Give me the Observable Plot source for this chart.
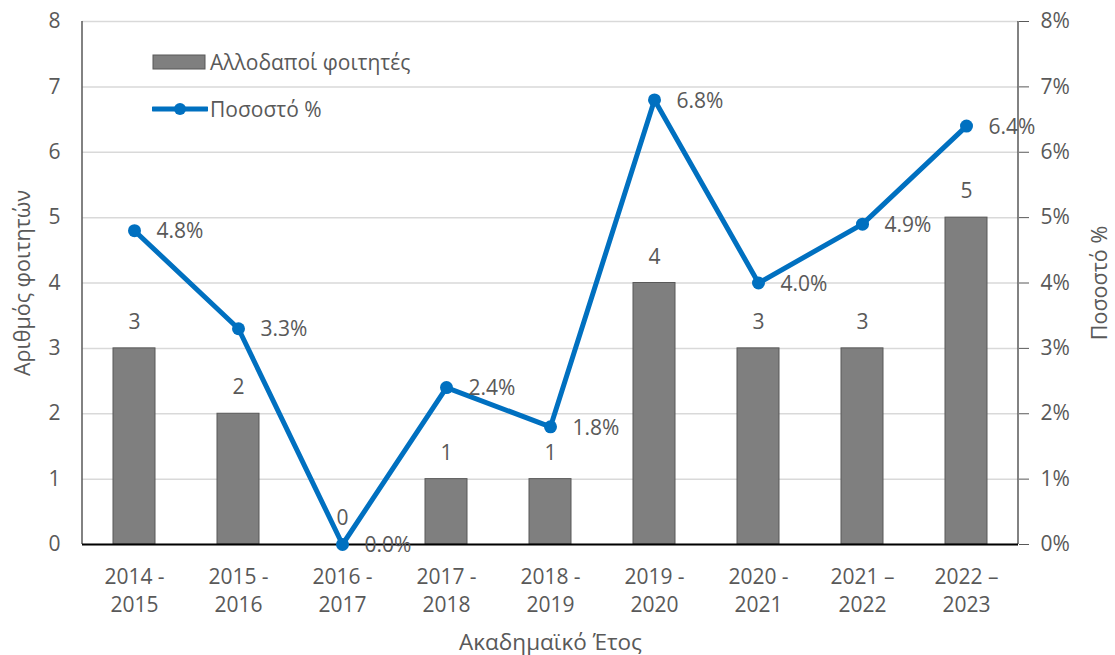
<!DOCTYPE html>
<html><head><meta charset="utf-8">
<script src="https://cdn.jsdelivr.net/npm/d3@7"></script>
<script src="https://cdn.jsdelivr.net/npm/@observablehq/plot@0.6"></script>
<style>
body{margin:0;background:#fff;font-family:"Open Sans",sans-serif;}
#wrap{position:relative;width:1115px;height:655px;}
.legend{position:absolute;left:152px;top:49px;color:#595959;font-size:21px;font-family:"Open Sans",sans-serif;}
.legend .row{display:flex;align-items:center;height:26px;margin-bottom:21px;white-space:nowrap}
.legend svg{margin-right:2px}
</style></head><body><div id="wrap"></div>
<script>
const categories = ["2014-2015","2015-2016","2016-2017","2017-2018","2018-2019","2019-2020","2020-2021","2021-2022","2022-2023"];
const tickLabels = ["2014 -\n2015","2015 -\n2016","2016 -\n2017","2017 -\n2018","2018 -\n2019","2019 -\n2020","2020 -\n2021","2021 –\n2022","2022 –\n2023"];
const students = [3, 2, 0, 1, 1, 4, 3, 3, 5];
const percent = [4.8, 3.3, 0.0, 2.4, 1.8, 6.8, 4.0, 4.9, 6.4];
const yTicks = [0, 1, 2, 3, 4, 5, 6, 7, 8];
const seriesNames = ["Αλλοδαποί φοιτητές", "Ποσοστό %"];
const yTitle = "Αριθμός φοιτητών";
const y2Title = "Ποσοστό %";
const xTitle = "Ακαδημαϊκό Έτος";

const data = categories.map((c, i) => ({year: c, students: students[i], percent: percent[i]}));

const barFill = "#7f7f7f", barStroke = "#595959", lineColor = "#0070C0", textColor = "#595959";

const axisLines = (index, scales, values, dims) => {
  const g = d3.create("svg:g").attr("stroke", "#595959").attr("stroke-width", 1.5);
  const x0 = dims.marginLeft, x1 = dims.width - dims.marginRight;
  const y0 = dims.marginTop, y1 = dims.height - dims.marginBottom;
  g.append("line").attr("x1", x0).attr("x2", x0).attr("y1", y0).attr("y2", y1);
  g.append("line").attr("x1", x1).attr("x2", x1).attr("y1", y0).attr("y2", y1);
  return g.node();
};

const chart = Plot.plot({
  width: 1115,
  height: 655,
  marginLeft: 82,
  marginRight: 97,
  marginTop: 21,
  marginBottom: 111,
  style: {fontFamily: "Open Sans, sans-serif", fontSize: "21px", color: textColor, background: "#fff"},
  x: {type: "band", domain: categories, paddingInner: 0.6, paddingOuter: 0.3, label: null},
  y: {domain: [0, 8], label: null},
  marks: [
    Plot.gridY(yTicks, {stroke: "#d9d9d9", strokeOpacity: 1, strokeWidth: 1.5}),
    Plot.barY(data, {x: "year", y: "students", fill: barFill, stroke: barStroke, strokeWidth: 1}),
    axisLines,
    Plot.ruleY([0], {stroke: "#000", strokeWidth: 2}),
    Plot.axisY({anchor: "left", ticks: yTicks, tickSize: 0, tickPadding: 22, label: null, fontSize: 21}),
    Plot.axisY({anchor: "right", ticks: yTicks, tickSize: 10, tickPadding: 12, tickFormat: d => d + "%", label: null, fontSize: 21}),
    Plot.axisX({tickSize: 0, tickPadding: 20, tickFormat: d => tickLabels[categories.indexOf(d)], label: null, fontSize: 21, lineHeight: 1.33}),
    Plot.line(data, {x: "year", y: "percent", stroke: lineColor, strokeWidth: 5, strokeLinejoin: "round"}),
    Plot.dot(data, {x: "year", y: "percent", r: 6.5, fill: lineColor}),
    Plot.text(data, {x: "year", y: "students", text: d => String(d.students), dy: -26, fontSize: 21, fill: textColor}),
    Plot.text(data, {x: "year", y: "percent", text: d => d.percent.toFixed(1) + "%", dx: 22, dy: 1, textAnchor: "start", fontSize: 21, fill: textColor}),
    Plot.text([yTitle], {frameAnchor: "left", dx: -59, rotate: -90, textAnchor: "middle", fontSize: 21.5, fill: textColor}),
    Plot.text([y2Title], {frameAnchor: "right", dx: 82, rotate: -90, textAnchor: "middle", fontSize: 21.5, fill: textColor}),
    Plot.text([xTitle], {frameAnchor: "bottom", dy: 105, fontSize: 22.5, fill: textColor})
  ]
});

const wrap = document.getElementById("wrap");
wrap.appendChild(chart);

const legend = document.createElement("div");
legend.className = "legend";
legend.innerHTML =
  `<div class="row"><svg width="56" height="16"><rect x="1" y="1" width="52" height="14" fill="${barFill}" stroke="${barStroke}" stroke-width="1"/></svg><span>${seriesNames[0]}</span></div>` +
  `<div class="row"><svg width="56" height="16"><line x1="1" x2="55" y1="8" y2="8" stroke="${lineColor}" stroke-width="5" stroke-linecap="round"/><circle cx="28" cy="8" r="6" fill="${lineColor}"/></svg><span>${seriesNames[1]}</span></div>`;
wrap.appendChild(legend);
</script></body></html>
